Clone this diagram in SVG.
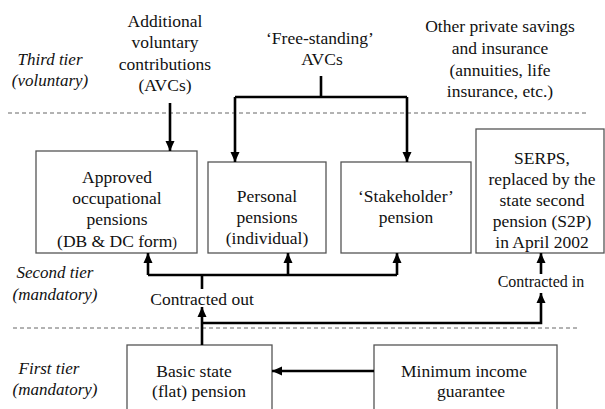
<svg xmlns="http://www.w3.org/2000/svg" width="605" height="409" viewBox="0 0 605 409">
<defs>
<marker id="ah" markerUnits="userSpaceOnUse" markerWidth="10" markerHeight="10" refX="10" refY="5" orient="auto">
<path d="M0,0.5 L10,5 L0,9.5 z" fill="#000"/>
</marker>
<style>
text{font-family:"Liberation Serif",Tinos,"Times New Roman","Noto Serif","DejaVu Serif",serif;font-size:17.5px;fill:#111;text-anchor:middle}
.it{font-style:italic;font-size:17px}
.sm{font-size:16px}
.box{fill:#fff;stroke:#555;stroke-width:1.3}
.dash{stroke:#666;stroke-width:1;stroke-dasharray:4 3;fill:none}
.con{stroke:#000;stroke-width:2.6;fill:none}
.arr{marker-end:url(#ah)}
</style>
</defs>
<rect width="605" height="409" fill="#fff"/>
<g id="tiers">
<line class="dash" x1="8" y1="113" x2="587" y2="113"/>
<line class="dash" x1="13" y1="328" x2="577" y2="328"/>
<text class="it" x="50" y="65">Third tier</text>
<text class="it" x="50" y="86">(voluntary)</text>
<text class="it" x="55" y="278">Second tier</text>
<text class="it" x="55" y="300">(mandatory)</text>
<text class="it" x="49" y="374">First  tier</text>
<text class="it" x="55" y="395">(mandatory)</text>
</g>
<g id="avcs">
<text x="165" y="27">Additional</text>
<text x="165" y="48">voluntary</text>
<text x="165" y="70">contributions</text>
<text x="165" y="91">(AVCs)</text>
</g>
<g id="freestanding">
<text x="320" y="44">‘Free-standing’</text>
<text x="322" y="65">AVCs</text>
</g>
<g id="other">
<text x="500" y="32">Other private savings</text>
<text x="500" y="54">and insurance</text>
<text x="500" y="76">(annuities, life</text>
<text x="500" y="97">insurance, etc.)</text>
</g>
<g id="occupational">
<rect class="box" x="36" y="151" width="161" height="102"/>
<text x="117" y="183">Approved</text>
<text x="117" y="204">occupational</text>
<text x="117" y="225">pensions</text>
<text x="117" y="247">(DB &amp; DC form<tspan font-size="14">)</tspan></text>
</g>
<g id="personal">
<rect class="box" x="208" y="162" width="118" height="91"/>
<text x="267" y="202">Personal</text>
<text x="267" y="223">pensions</text>
<text x="267" y="244">(individual)</text>
</g>
<g id="stakeholder">
<rect class="box" x="341" y="162" width="130" height="91"/>
<text x="406" y="202">‘Stakeholder’</text>
<text x="406" y="223">pension</text>
</g>
<g id="serps">
<rect class="box" x="476" y="129" width="128" height="124"/>
<text x="542" y="164">SERPS,</text>
<text x="542" y="185">replaced by the</text>
<text x="542" y="206">state second</text>
<text x="542" y="227">pension (S2P)</text>
<text x="542" y="248">in April 2002</text>
</g>
<g id="basic">
<rect class="box" x="127" y="345" width="145" height="80"/>
<text x="194" y="377">Basic state</text>
<text x="199" y="397">(flat)  pension</text>
</g>
<g id="minimum">
<rect class="box" x="374" y="345" width="183" height="80"/>
<text x="464" y="377">Minimum income</text>
<text x="471" y="397">guarantee</text>
</g>
<g id="labels">
<text x="202" y="305">Contracted out</text>
<text class="sm" x="541" y="287">Contracted in</text>
</g>
<g id="connectors">
<path class="con arr" d="M170,103 V151"/>
<path class="con" d="M321,76 V97"/>
<path class="con" d="M235,97 H407"/>
<path class="con arr" d="M235,97 V162"/>
<path class="con arr" d="M407,97 V162"/>
<path class="con" d="M148,275 H397"/>
<path class="con arr" d="M148,275 V253"/>
<path class="con arr" d="M288,275 V253"/>
<path class="con arr" d="M397,275 V253"/>
<path class="con" d="M202,275 V289"/>
<path class="con arr" d="M202,345 V307"/>
<path class="con arr" d="M202,323 H541 V293"/>
<path class="con arr" d="M541,274 V253"/>
<path class="con arr" d="M374,371 H272"/>
</g>
</svg>
